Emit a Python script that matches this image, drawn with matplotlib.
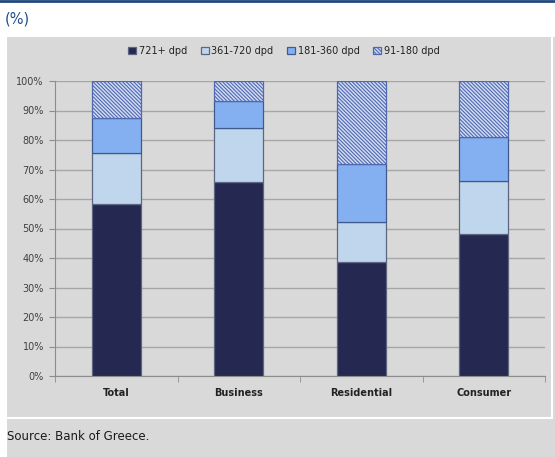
import numpy as np
import matplotlib.pyplot as plt
from matplotlib.patches import Rectangle
from matplotlib.lines import Line2D

categories = ["Total", "Business", "Residential", "Consumer"]
series_names = ["721+ dpd", "361-720 dpd", "181-360 dpd", "91-180 dpd"]
dpd_721 = [58.4, 65.7, 38.5, 48.0]
dpd_361_720 = [17.3, 18.3, 13.6, 18.1]
dpd_181_360 = [11.9, 9.2, 19.8, 15.0]
dpd_91_180 = [12.4, 6.8, 28.1, 18.9]
y_ticks = [0, 10, 20, 30, 40, 50, 60, 70, 80, 90, 100]

W, H = 555, 457
plt.rcParams["font.family"] = "DejaVu Sans"
plt.rcParams["hatch.linewidth"] = 0.8

fig = plt.figure(figsize=(W / 100, H / 100), dpi=100, facecolor="white")

# grey panel, white frame, top rule
fig.add_artist(Rectangle((7 / W, 0), 1 - 7 / W, 1 - 37 / H, transform=fig.transFigure,
                         facecolor="#d9d9d9", edgecolor="none", zorder=0))
fig.add_artist(Line2D([7 / W, 552 / W], [1 - 418 / H, 1 - 418 / H], transform=fig.transFigure,
                      color="white", lw=1.5))
fig.add_artist(Line2D([552 / W, 552 / W], [1 - 37 / H, 1 - 418 / H], transform=fig.transFigure,
                      color="white", lw=1.5))
fig.add_artist(Line2D([0, 1], [1 - 1 / H, 1 - 1 / H], transform=fig.transFigure,
                      color="#1f497d", lw=2))

fig.text(5 / W, 1 - 19 / H, "(%)", color="#1f4e8c", fontsize=10.5, va="center", ha="left")
fig.text(7 / W, 1 - 436 / H, "Source: Bank of Greece.", color="#1a1a1a", fontsize=8.5,
         va="center", ha="left")

ax = fig.add_axes([55 / W, 1 - 376 / H, 490 / W, 295 / H])
ax.set_facecolor("none")

x = np.arange(len(categories))
width = 0.4
edge = "#5c6683"
bottom = np.zeros(len(categories))
styles = [
    dict(color="#252850", edgecolor=edge),
    dict(color="#c0d6ec", edgecolor=edge),
    dict(color="#84b0f2", edgecolor="#3f5a8e"),
    dict(color="#d2ddf3", edgecolor="#5068b0", hatch="\\" * 9),
]
handles = []
for vals, name, st in zip([dpd_721, dpd_361_720, dpd_181_360, dpd_91_180], series_names, styles):
    b = ax.bar(x, vals, width, bottom=bottom, label=name, linewidth=0.9, zorder=3, **st)
    handles.append(b)
    bottom += np.array(vals)

ax.set_xlim(-0.5, len(categories) - 0.5)
ax.set_ylim(0, 100)
ax.set_yticks(y_ticks)
ax.set_yticklabels([f"{t}%" for t in y_ticks])
ax.set_xticks(x)
ax.set_xticklabels(categories, fontweight="bold")
ax.set_xticks(np.arange(len(categories) + 1) - 0.5, minor=True)
ax.tick_params(axis="x", which="major", length=0, pad=9, labelsize=7, colors="#222222")
ax.tick_params(axis="x", which="minor", length=4, color="#8c8c8c", direction="out")
ax.tick_params(axis="y", length=4, color="#8c8c8c", labelsize=7, labelcolor="#404040", pad=4)
ax.grid(axis="y", color="#a6a6a6", linewidth=1, zorder=1)
ax.set_axisbelow(True)
for s in ["top", "right"]:
    ax.spines[s].set_visible(False)
ax.spines["left"].set_color("#8c8c8c")
ax.spines["bottom"].set_color("#8c8c8c")

fig.legend(handles, series_names, loc="center", bbox_to_anchor=(284 / W, 1 - 51 / H), ncol=4,
           frameon=False, fontsize=7, handlelength=0.8, handleheight=0.8, handletextpad=0.3,
           columnspacing=1.4, labelcolor="#222222")

fig.savefig("out.png", dpi=100, facecolor="white")
